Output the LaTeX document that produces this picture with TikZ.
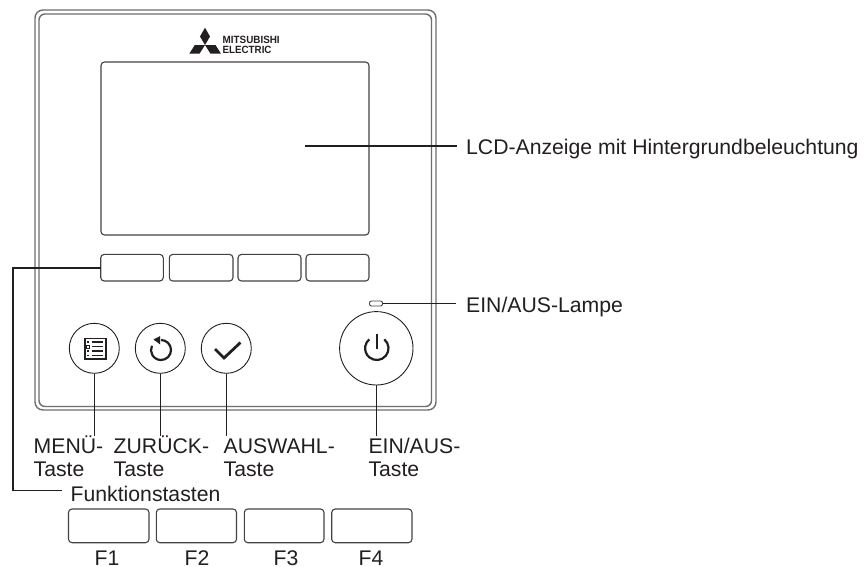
\documentclass[tikz,border=0pt]{standalone}
\usepackage{fontspec}
\setmainfont{Liberation Sans}
\definecolor{ink}{HTML}{231F20}
\definecolor{casing}{HTML}{6E6E6E}
\tikzset{
  x=1pt,y=-1pt,
  casing/.style={draw=casing,line width=1.4pt,rounded corners=6pt},
  keybox/.style={draw=ink!85,line width=1.1pt,rounded corners=3.5pt},
  disc/.style={circle,draw=ink,line width=0.9pt,inner sep=0pt},
  leader/.style={draw=ink,line width=1.6pt},
  lbl/.style={font=\fontsize{21.2}{23.5}\selectfont,text=ink,inner sep=0pt,anchor=base west,align=left},
  flbl/.style={font=\fontsize{21.2}{23.5}\selectfont,text=ink,inner sep=0pt,anchor=base},
  brand/.style={inner sep=0pt,anchor=base west,text=ink,font=\fontsize{10.5}{10.5}\bfseries}
}
\begin{document}
\begin{tikzpicture}
\useasboundingbox (0,0) rectangle (868,566);
\fill[white] (0,0) rectangle (868,566);
% casing
\draw[casing,rounded corners=8pt] (35,10) rectangle (436,410);
\draw[casing] (39,14) rectangle (431.5,406.5);
% logo
\fill[ink] (205,27.7)--(210,36.5)--(205,45)--(200,36.5)--cycle;
\fill[ink] (205,45)--(194.8,45)--(189.3,53.7)--(199.5,53.7)--cycle;
\fill[ink] (205,45)--(215.5,45)--(221,53.7)--(210.5,53.7)--cycle;
\node[brand] (brandA) at (222.5,43.7) {\scalebox{0.94}[1]{MITSUBISHI}};
\node[brand] (brandB) at (222.5,53.5) {\scalebox{0.93}[1]{ELECTRIC}};
% LCD
\coordinate (lcdNW) at (101,62);
\coordinate (lcdSE) at (369,235);
\draw[keybox] (lcdNW) rectangle (lcdSE);
\coordinate (lcdIn) at (305,146);
% soft keys
\draw[keybox] (100.7,254.4) rectangle (163.3,281);
\draw[keybox] (169.3,254.4) rectangle (233,281);
\draw[keybox] (238,254.4) rectangle (301,281);
\draw[keybox] (306,254.4) rectangle (369,281);
\coordinate (softW) at (100.7,268);
% buttons
\node[disc,minimum size=50pt] (menu) at (94.3,348.3) {};
\node[disc,minimum size=50pt] (back) at (160.3,348.3) {};
\node[disc,minimum size=50pt] (ok) at (226.3,348.3) {};
\node[disc,minimum size=73.4pt] (power) at (376.3,348.3) {};
% menu icon
\draw[ink,line width=1.6pt] (85,338.3) rectangle (105.7,359);
\foreach \yy in {341.9,346.5,350.9,355.3}{\draw[ink,line width=1.3pt] (91.7,\yy)--(103.3,\yy);}
\foreach \yy in {341.9,351.2,355.3}{\fill[ink] (87.2,\yy-0.8) rectangle (88.8,\yy+0.8);}
\draw[ink,line width=.7pt] (86.7,345.2) rectangle (89.6,348.1);
% back icon
\begin{scope}[shift={(161,350)},y=1pt]
\draw[ink,line width=2.2pt] (0,10) arc[start angle=90,end angle=-205,radius=10];
\fill[ink] (-7.5,10.5)--(-0.8,14)--(-0.8,5.5)--cycle;
\end{scope}
% check icon
\draw[ink,line width=2.8pt] (215,349)--(224,358)--(240.5,342.5);
% power icon
\begin{scope}[shift={(376.8,348.3)},y=1pt]
\draw[ink,line width=2.2pt] (0,0)++(50:11.7) arc[start angle=50,end angle=-230,radius=11.7];
\end{scope}
\draw[ink,line width=2.6pt] (376.8,334.3)--(376.8,348.5);
% LED
\draw[keybox,line width=.9pt,rounded corners=2pt] (369.5,301) rectangle (382.5,306);
\coordinate (ledE) at (382.5,303.5);
% labels
\node[lbl] (lcdT) at (466,154.5) {LCD-Anzeige mit Hintergrundbeleuchtung};
\node[lbl] (ledT) at (466,312.7) {EIN/AUS-Lampe};
\node[lbl] (menuT) at (33.5,476.7) {MENÜ-\\Taste};
\node[lbl] (backT) at (113.5,476.7) {ZURÜCK-\\Taste};
\node[lbl] (okT) at (223.5,476.7) {AUSWAHL-\\Taste};
\node[lbl] (powerT) at (368.3,476.7) {EIN/AUS-\\Taste};
\node[lbl] (fnT) at (70.5,501.7) {Funktionstasten};
% leaders
\draw[leader] (lcdIn) -- (457,146);
\draw[leader] (ledE) -- (456,303.5);
\draw[leader] (menu.south) -- (94.3,436);
\draw[leader] (back.south) -- (160.3,436);
\draw[leader] (ok.south) -- (226.3,436);
\draw[leader] (power.south) -- (376.3,436);
\draw[leader] (softW) -- (13,268) -- (13,490.5) -- (62,490.5);
% function keys
\draw[keybox] (68.5,509) rectangle (149,542.7);
\draw[keybox] (156.3,509) rectangle (236.5,542.7);
\draw[keybox] (244.3,509) rectangle (324,542.7);
\draw[keybox] (331.7,509) rectangle (412,542.7);
\node[flbl] (f1) at (107,565.5) {F1};
\node[flbl] (f2) at (197,565.5) {F2};
\node[flbl] (f3) at (286,565.5) {F3};
\node[flbl] (f4) at (371,565.5) {F4};
\end{tikzpicture}
\end{document}
